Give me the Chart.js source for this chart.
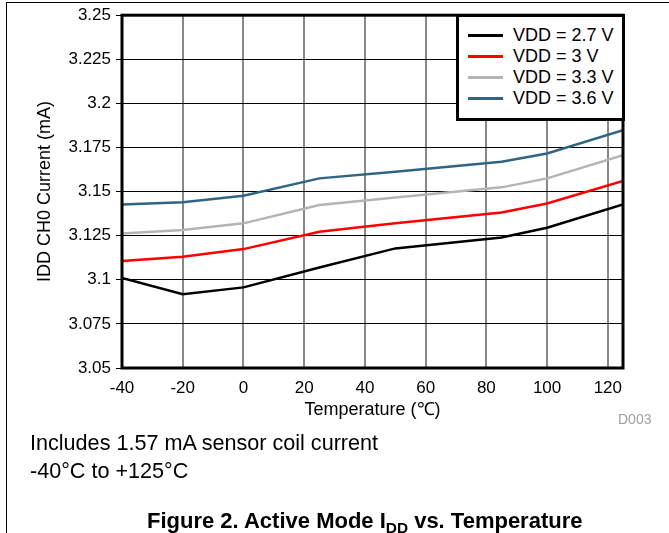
<!DOCTYPE html>
<html><head><meta charset="utf-8">
<script src="https://cdn.jsdelivr.net/npm/chart.js@4.4.1/dist/chart.umd.min.js"></script>
<style>
html,body{margin:0;padding:0;background:#fff;}
#wrap{position:relative;width:669px;height:533px;overflow:hidden;font-family:"Liberation Sans",Arial,sans-serif;background:#fff;}
#frame{position:absolute;left:6px;top:2px;width:700px;height:600px;border-top:1px solid #000;border-left:1px solid #000;}
canvas{position:absolute;left:0;top:0;}
#legend{position:absolute;box-sizing:border-box;background:#fff;border:3px solid #000;padding:8px 0 0 9px;font-size:18px;color:#000;}
.row{display:flex;align-items:center;height:21px;white-space:nowrap;}
.swatch{width:35px;height:3px;margin-right:10px;flex:none;}
.cap{position:absolute;white-space:nowrap;color:#000;}
</style></head>
<body>
<div id="wrap">
<div id="frame"></div>
<canvas id="c" width="669" height="533"></canvas>
<div id="legend"></div>
<div class="cap" style="left:618px;top:411px;font-size:14px;line-height:16px;color:#a0a0a0;">D003</div>
<div class="cap" style="left:30px;top:431px;font-size:21.6px;line-height:24px;">Includes 1.57 mA sensor coil current</div>
<div class="cap" style="left:30px;top:459px;font-size:21.6px;line-height:24px;">-40°C to +125°C</div>
<div class="cap" style="left:147px;top:509px;font-size:22px;line-height:24px;font-weight:bold;">Figure 2. Active Mode I<span style="font-size:70%;position:relative;top:0.3em;">DD</span> vs. Temperature</div>
</div>
<script>
const temps = [-40, -20, 0, 25, 50, 85, 100, 125];
const vdd27 = [3.101, 3.0918, 3.0957, 3.107, 3.1178, 3.124, 3.1295, 3.1427];
const vdd30 = [3.1106, 3.1131, 3.1174, 3.1272, 3.132, 3.1382, 3.1433, 3.156];
const vdd33 = [3.1263, 3.1282, 3.132, 3.1424, 3.1466, 3.1524, 3.1575, 3.1707];
const vdd36 = [3.1427, 3.1439, 3.1476, 3.1575, 3.1613, 3.1669, 3.1716, 3.1848];
const seriesNames = ['VDD = 2.7 V', 'VDD = 3 V', 'VDD = 3.3 V', 'VDD = 3.6 V'];
const seriesColors = ['#000000', '#ff0000', '#b4b4b4', '#2f6582'];
const xTickLabels = ['-40', '-20', '0', '20', '40', '60', '80', '100', '120'];
const yTickLabels = ['3.05', '3.075', '3.1', '3.125', '3.15', '3.175', '3.2', '3.225', '3.25'];

const FONT = "'Liberation Sans', Arial, sans-serif";
Chart.defaults.font.family = FONT;
Chart.defaults.color = '#000';

const allSeries = [vdd27, vdd30, vdd33, vdd36];
const datasets = allSeries.map((s, k) => ({
  label: seriesNames[k],
  data: temps.map((t, i) => ({x: t, y: s[i]})),
  borderColor: seriesColors[k],
  backgroundColor: seriesColors[k],
  borderWidth: 2.5,
  pointRadius: 0,
  tension: 0,
  fill: false
}));

const frameBorder = {
  id: 'frameBorder',
  afterDatasetsDraw(chart) {
    const {ctx, chartArea: a} = chart;
    ctx.save();
    ctx.strokeStyle = '#000';
    ctx.lineWidth = 3;
    ctx.strokeRect(a.left, a.top, a.right - a.left, a.bottom - a.top);
    ctx.restore();
  }
};

const htmlLegend = {
  id: 'htmlLegend',
  afterRender(chart) {
    const el = document.getElementById('legend');
    if (el.dataset.done) return;
    el.dataset.done = '1';
    const a = chart.chartArea;
    el.style.left = (a.right - 167) + 'px';
    el.style.top = (a.top - 1.5) + 'px';
    el.style.width = '168.5px';
    el.style.height = '107px';
    chart.data.datasets.forEach(ds => {
      const row = document.createElement('div');
      row.className = 'row';
      const sw = document.createElement('span');
      sw.className = 'swatch';
      sw.style.background = ds.borderColor;
      const tx = document.createElement('span');
      tx.textContent = ds.label;
      row.appendChild(sw); row.appendChild(tx);
      el.appendChild(row);
    });
  }
};

new Chart(document.getElementById('c'), {
  type: 'line',
  data: {datasets},
  options: {
    responsive: false,
    animation: false,
    devicePixelRatio: 1,
    layout: {padding: {left: 34, top: 15, right: 46, bottom: 112}},
    plugins: {legend: {display: false}, tooltip: {enabled: false}},
    scales: {
      x: {
        type: 'linear',
        min: -40, max: 125,
        afterFit(s) { s.height = 53; },
        ticks: {
          stepSize: 20, includeBounds: false, padding: 10,
          font: {size: 17}, color: '#000', maxRotation: 0,
          callback: (v, i) => xTickLabels[i]
        },
        grid: {color: '#888', lineWidth: 2, drawTicks: false},
        border: {display: false},
        title: {display: true, text: 'Temperature (℃)', font: {size: 18}, color: '#000', padding: 0}
      },
      y: {
        type: 'linear',
        min: 3.05, max: 3.25,
        afterFit(s) { s.width = 88; },
        ticks: {
          stepSize: 0.025, padding: 5,
          font: {size: 17}, color: '#000',
          callback: (v, i) => yTickLabels[i]
        },
        grid: {color: '#000', lineWidth: 1, drawTicks: true, tickLength: 6},
        border: {display: false},
        title: {display: true, text: 'IDD CH0 Current (mA)', font: {size: 18}, color: '#000', padding: 0}
      }
    }
  },
  plugins: [frameBorder, htmlLegend]
});
</script>
</body></html>
